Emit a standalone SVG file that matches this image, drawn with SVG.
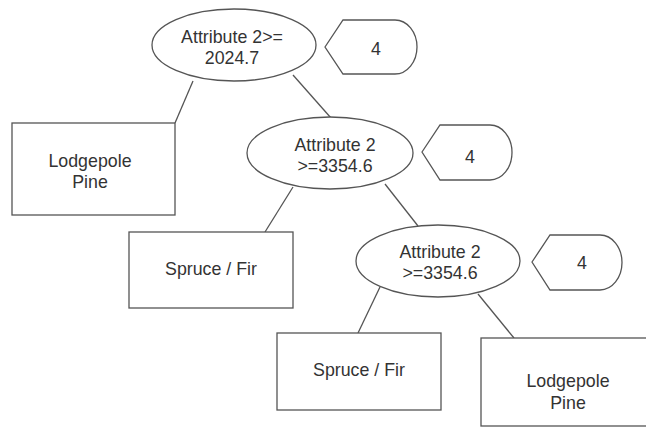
<svg xmlns="http://www.w3.org/2000/svg" width="646" height="427" viewBox="0 0 646 427">
<style>
.shape{fill:#ffffff;stroke:#555;stroke-width:1.3}
.edge{fill:none;stroke:#555;stroke-width:1.3}
text{font-family:"Liberation Sans",Arial,sans-serif;font-size:17.8px;fill:#333;text-anchor:middle}
</style>
<rect width="646" height="427" fill="#ffffff"/>
<g id="connectors">
<line class="edge" x1="193" y1="81" x2="175" y2="123"/>
<line class="edge" x1="293" y1="75" x2="331" y2="118"/>
<line class="edge" x1="293" y1="187" x2="265" y2="232"/>
<line class="edge" x1="385" y1="184" x2="418" y2="226"/>
<line class="edge" x1="380" y1="287" x2="358" y2="333"/>
<line class="edge" x1="478" y1="294" x2="514" y2="338"/>
</g>
<g id="n1">
<ellipse class="shape" cx="234" cy="45" rx="82" ry="36"/>
<text x="232" y="43">Attribute 2&gt;=</text>
<text x="232" y="64">2024.7</text>
</g>
<g id="d1">
<path class="shape" d="M325,47 L343,20 L395,20 A22,27 0 0 1 395,74 L343,74 Z"/>
<text x="376" y="55">4</text>
</g>
<g id="n2">
<rect class="shape" x="12" y="123" width="163" height="92"/>
<text x="90" y="167">Lodgepole</text>
<text x="90" y="188">Pine</text>
</g>
<g id="n3">
<ellipse class="shape" cx="330" cy="153" rx="83" ry="36"/>
<text x="335" y="151">Attribute 2</text>
<text x="335" y="172">&gt;=3354.6</text>
</g>
<g id="d2">
<path class="shape" d="M422,152 L440,125 L490,125 A22,27.5 0 0 1 490,180 L440,180 Z"/>
<text x="470" y="163">4</text>
</g>
<g id="n4">
<rect class="shape" x="129" y="232" width="164" height="76"/>
<text x="211" y="275">Spruce / Fir</text>
</g>
<g id="n5">
<ellipse class="shape" cx="438" cy="261" rx="82" ry="36"/>
<text x="440" y="258">Attribute 2</text>
<text x="440" y="279">&gt;=3354.6</text>
</g>
<g id="d3">
<path class="shape" d="M532,262 L550,235 L600,235 A22,27.5 0 0 1 600,290 L550,290 Z"/>
<text x="582" y="269">4</text>
</g>
<g id="n6">
<rect class="shape" x="277" y="333" width="164" height="77"/>
<text x="359" y="376">Spruce / Fir</text>
</g>
<g id="n7">
<rect class="shape" x="481" y="338" width="180" height="88"/>
<text x="568" y="387">Lodgepole</text>
<text x="568" y="409">Pine</text>
</g>
</svg>
